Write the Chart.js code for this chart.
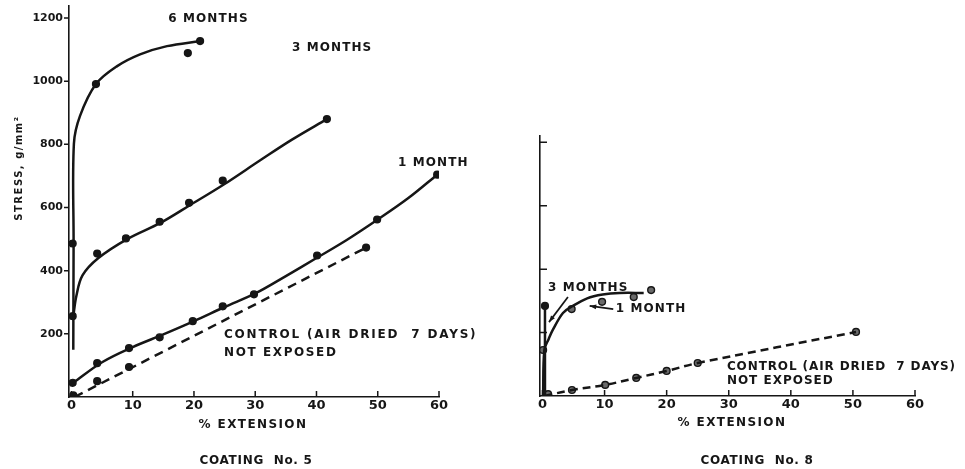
<!DOCTYPE html>
<html>
<head>
<meta charset="utf-8">
<script src="https://cdn.jsdelivr.net/npm/chart.js@4.4.1/dist/chart.umd.min.js"></script>
<style>
  html, body { margin: 0; padding: 0; background: #fff; }
  #wrap { position: relative; width: 965px; height: 469px; }
  .box { position: absolute; top: 0; height: 469px; }
  #box5 { left: 0; width: 485px; }
  #box8 { left: 485px; width: 480px; }
</style>
</head>
<body>
<div id="wrap">
  <div class="box" id="box5"><canvas id="coating5"></canvas></div>
  <div class="box" id="box8"><canvas id="coating8"></canvas></div>
</div>
<script>
const xTickValues = [0, 10, 20, 30, 40, 50, 60];
const yTickValues = [0, 200, 400, 600, 800, 1000, 1200];
const yTickLabels = ['', '200', '400', '600', '800', '1000', '1200'];

// coating no. 5 - measured points
const c5SixX = [0.2, 4.0, 19.0, 21.0];
const c5SixY = [486, 991, 1089, 1127];
const c5ThreeX = [0.2, 4.2, 8.9, 14.4, 19.2, 24.7, 41.7];
const c5ThreeY = [256, 454, 502, 555, 615, 685, 880];
const c5OneX = [0.2, 4.2, 9.4, 14.4, 19.8, 24.7, 29.8, 40.1, 49.9, 59.7];
const c5OneY = [45, 107, 155, 189, 240, 287, 325, 448, 562, 704];
const c5CtrlX = [0.3, 4.2, 9.4, 48.1];
const c5CtrlY = [5, 50, 95, 473];

// coating no. 5 - drawn curves
const c5SixCurveX = [0.3, 0.35, 0.4, 1.4, 4.0, 7.4, 11.2, 15.6, 21.0];
const c5SixCurveY = [150, 490, 802, 890, 991, 1047, 1085, 1111, 1127];
const c5ThreeCurveX = [0.3, 0.8, 1.8, 4.4, 9.1, 14.6, 19.4, 24.8, 31, 36, 41.7];
const c5ThreeCurveY = [255, 320, 385, 440, 500, 552, 608, 672, 752, 815, 880];
const c5OneCurveX = [0.3, 5, 10, 15, 20, 25, 30, 35, 40, 45, 50, 55, 59.7];
const c5OneCurveY = [45, 110, 158, 198, 240, 285, 328, 383, 440, 498, 562, 630, 704];
const c5CtrlCurveX = [0.5, 48.1];
const c5CtrlCurveY = [0, 473];

// coating no. 8 - measured points
const c8ThreeX = [0.4];
const c8ThreeY = [284];
const c8OneX = [0.1, 4.7, 9.6, 14.7, 17.5];
const c8OneY = [145, 274, 297, 312, 334];
const c8CtrlX = [0.9, 4.75, 10.1, 15.1, 20, 25, 50.5];
const c8CtrlY = [6, 19, 35, 57, 79, 104, 202];

// coating no. 8 - drawn curves
const c8ThreeCurveX = [0.4, 0.4];
const c8ThreeCurveY = [0, 284];
const c8OneCurveX = [0.1, 0.3, 1, 1.7, 3.3, 4.8, 7.2, 9.7, 12.4, 16.3];
const c8OneCurveY = [0, 145, 180, 210, 262, 283, 308, 320, 325, 325];
const c8CtrlCurveX = [0.3, 4.75, 10.1, 15.1, 20, 25, 50.5];
const c8CtrlCurveY = [0, 19, 35, 57, 79, 104, 202];

const ink = '#161616';
const font = '"DejaVu Sans", sans-serif';

const pts = (xs, ys) => xs.map((x, i) => ({x: x, y: ys[i]}));

const curve = (xs, ys, dash) => ({
  data: pts(xs, ys),
  showLine: true,
  borderColor: ink,
  borderWidth: 2.5,
  borderDash: dash || [],
  pointRadius: 0,
  tension: 0.35,
  fill: false
});

const marks = (xs, ys, fill) => ({
  data: pts(xs, ys),
  showLine: false,
  pointRadius: 3.4,
  pointBackgroundColor: fill,
  pointBorderColor: ink,
  pointBorderWidth: 1.4
});

// tick marks, labels on the curves and arrows
const inkPlugin = {
  id: 'inkPlugin',
  afterDraw(chart, args, opts) {
    const {ctx, chartArea: a, scales: {x, y}} = chart;
    ctx.save();
    ctx.strokeStyle = ink;
    ctx.fillStyle = ink;
    ctx.lineWidth = 1.5;
    ctx.beginPath();
    x.ticks.forEach(t => {
      const px = x.getPixelForValue(t.value);
      ctx.moveTo(px, a.bottom);
      ctx.lineTo(px, a.bottom - 6);
    });
    y.ticks.forEach(t => {
      if (t.value === 0) return;
      const py = y.getPixelForValue(t.value);
      ctx.moveTo(a.left, py);
      ctx.lineTo(a.left + opts.yTick, py);
    });
    ctx.stroke();

    ctx.textBaseline = 'middle';
    ctx.textAlign = 'left';
    ctx.font = 'bold 12px ' + font;
    opts.notes.forEach(n => {
      ctx.letterSpacing = (n.sp || 1.1) + 'px';
      ctx.fillText(n.text, x.getPixelForValue(n.x), y.getPixelForValue(n.y));
    });

    (opts.arrows || []).forEach(ar => {
      const x0 = x.getPixelForValue(ar.from[0]), y0 = y.getPixelForValue(ar.from[1]);
      const x1 = x.getPixelForValue(ar.to[0]), y1 = y.getPixelForValue(ar.to[1]);
      const ang = Math.atan2(y1 - y0, x1 - x0);
      ctx.lineWidth = 1.7;
      ctx.beginPath();
      ctx.moveTo(x0, y0);
      ctx.lineTo(x1, y1);
      ctx.stroke();
      ctx.beginPath();
      ctx.moveTo(x1, y1);
      ctx.lineTo(x1 - 7 * Math.cos(ang - 0.35), y1 - 7 * Math.sin(ang - 0.35));
      ctx.lineTo(x1 - 7 * Math.cos(ang + 0.35), y1 - 7 * Math.sin(ang + 0.35));
      ctx.closePath();
      ctx.fill();
    });

    ctx.textAlign = 'center';
    opts.texts.forEach(t => {
      ctx.font = 'bold ' + t.size + 'px ' + font;
      ctx.letterSpacing = t.sp + 'px';
      ctx.save();
      ctx.translate(t.px, t.py);
      if (t.rot) ctx.rotate(t.rot);
      ctx.fillText(t.text, 0, 0);
      ctx.restore();
    });
    ctx.restore();
  }
};

const makeScales = (yMax, yWidth, xHeight, showYLabels, yPad) => ({
  x: {
    type: 'linear',
    min: -0.4,
    max: 60,
    afterBuildTicks: s => { s.ticks = xTickValues.map(v => ({value: v})); },
    afterFit: s => { s.height = xHeight; s.paddingLeft = 0; s.paddingRight = 0; },
    grid: {display: false, drawTicks: false},
    border: {display: true, color: ink, width: 1.6},
    ticks: {color: ink, padding: 1, font: {family: font, size: 13, weight: 'bold'}}
  },
  y: {
    type: 'linear',
    min: 0,
    max: yMax,
    afterBuildTicks: s => { s.ticks = yTickValues.filter(v => v <= yMax).map(v => ({value: v})); },
    afterFit: s => { s.width = yWidth; s.paddingTop = 0; s.paddingBottom = 0; },
    grid: {display: false, drawTicks: false},
    border: {display: true, color: ink, width: 1.6},
    ticks: {
      display: showYLabels,
      color: ink,
      padding: yPad,
      font: {family: font, size: 11, weight: 'bold'},
      callback: (v, i) => yTickLabels[i]
    }
  }
});

const baseOptions = {
  responsive: true,
  maintainAspectRatio: false,
  animation: false,
  events: []
};

new Chart(document.getElementById('coating5'), {
  type: 'scatter',
  data: {
    datasets: [
      curve(c5SixCurveX, c5SixCurveY),
      curve(c5ThreeCurveX, c5ThreeCurveY),
      curve(c5OneCurveX, c5OneCurveY),
      curve(c5CtrlCurveX, c5CtrlCurveY, [9, 6]),
      marks(c5SixX, c5SixY, ink),
      marks(c5ThreeX, c5ThreeY, ink),
      marks(c5OneX, c5OneY, ink),
      marks(c5CtrlX, c5CtrlY, ink)
    ]
  },
  options: {
    ...baseOptions,
    layout: {padding: {left: 0, right: 46, top: 4, bottom: 0}},
    scales: makeScales(1240, 69, 72, true, 6),
    plugins: {
      legend: {display: false},
      tooltip: {enabled: false},
      inkPlugin: {
        yTick: -5,
        notes: [
          {text: '6 MONTHS', x: 15.8, y: 1196},
          {text: '3 MONTHS', x: 36, y: 1104},
          {text: '1 MONTH', x: 53.3, y: 742},
          {text: 'CONTROL (AIR DRIED  7 DAYS)', x: 24.9, y: 196, sp: 1.8},
          {text: 'NOT EXPOSED', x: 24.9, y: 139, sp: 1.6}
        ],
        texts: [
          {text: '% EXTENSION', px: 253, py: 425, size: 12, sp: 1.4},
          {text: 'COATING  No. 5', px: 256, py: 461, size: 12, sp: 0.7},
          {text: 'STRESS, g/mm²', px: 19, py: 168, size: 10, sp: 1.5, rot: -Math.PI / 2}
        ]
      }
    }
  },
  plugins: [inkPlugin]
});

new Chart(document.getElementById('coating8'), {
  type: 'scatter',
  data: {
    datasets: [
      curve(c8ThreeCurveX, c8ThreeCurveY),
      curve(c8OneCurveX, c8OneCurveY),
      curve(c8CtrlCurveX, c8CtrlCurveY, [8, 5]),
      marks(c8ThreeX, c8ThreeY, ink),
      marks(c8OneX, c8OneY, '#6a6a6a'),
      marks(c8CtrlX, c8CtrlY, '#6a6a6a')
    ]
  },
  options: {
    ...baseOptions,
    layout: {padding: {left: 0, right: 50, top: 136, bottom: 0}},
    scales: makeScales(820, 55, 73, false, 6),
    plugins: {
      legend: {display: false},
      tooltip: {enabled: false},
      inkPlugin: {
        yTick: 7,
        notes: [
          {text: '3 MONTHS', x: 0.9, y: 341},
          {text: '1 MONTH', x: 11.8, y: 274},
          {text: 'CONTROL (AIR DRIED  7 DAYS)', x: 29.7, y: 91, sp: 0.9},
          {text: 'NOT EXPOSED', x: 29.7, y: 47, sp: 1}
        ],
        arrows: [
          {from: [4.1, 312], to: [1.05, 233]},
          {from: [11.4, 274], to: [7.6, 284]}
        ],
        texts: [
          {text: '% EXTENSION', px: 247, py: 423, size: 12, sp: 1.4},
          {text: 'COATING  No. 8', px: 272, py: 461, size: 12, sp: 0.7}
        ]
      }
    }
  },
  plugins: [inkPlugin]
});
</script>
</body>
</html>
